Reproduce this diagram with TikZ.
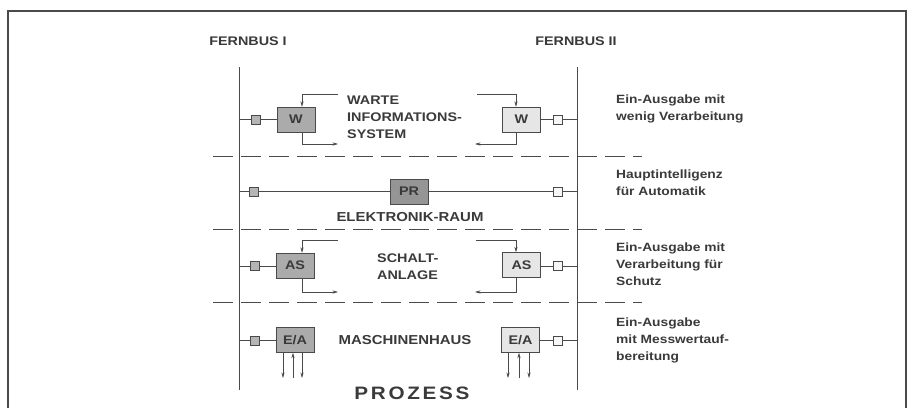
\documentclass[tikz,border=0pt]{standalone}
\usepackage{fontspec}
\setmainfont{Liberation Sans}[FakeStretch=1.15]
\usetikzlibrary{arrows.meta}
\definecolor{ink}{HTML}{3A3A3A}
\definecolor{linecol}{HTML}{4A4A4A}
\definecolor{darkfill}{HTML}{ABABAB}
\definecolor{prfill}{HTML}{959595}
\definecolor{lightfill}{HTML}{E6E6E6}
\definecolor{sqdark}{HTML}{B5B5B5}
\definecolor{sqlight}{HTML}{F6F6F6}
\tikzset{
  txt/.style={inner sep=0pt, text=ink, font=\fontsize{12}{17}\selectfont\bfseries, align=left},
  midtxt/.style={inner sep=0pt, text=ink, font=\fontsize{12.5}{17}\selectfont\bfseries, align=left},
  bigtxt/.style={inner sep=0pt, text=ink, font=\fontsize{13}{17}\selectfont\bfseries},
  unitL/.style={draw=linecol, fill=darkfill, minimum width=38pt, minimum height=25pt, inner sep=0pt, text=ink, font=\fontsize{12.5}{15}\selectfont\bfseries},
  unitR/.style={unitL, fill=lightfill},
  unitP/.style={unitL, fill=prfill},
  sqL/.style={draw=linecol, fill=sqdark, minimum size=9pt, inner sep=0pt},
  sqR/.style={sqL, fill=sqlight},
  wire/.style={draw=linecol, line width=0.6pt},
  sig/.style={draw=linecol, line width=0.6pt, -{Stealth[length=5.5pt,width=3.2pt]}},
  sep/.style={draw=linecol, line width=1pt, dash pattern=on 20pt off 8pt},
}
\begin{document}
\begin{tikzpicture}[x=1pt,y=-1pt]
\useasboundingbox (0,0) rectangle (911,408);
% frame
\draw[linecol, line width=1.8pt] (8,408) -- (8,11) -- (906,11) -- (906,408);
% buses
\coordinate (b1t) at (239,67); \coordinate (b1b) at (239,390);
\coordinate (b2t) at (577,67); \coordinate (b2b) at (577,390);
\draw[wire, line width=1pt] (b1t) -- (b1b);
\draw[wire, line width=1pt] (b2t) -- (b2b);
\node[midtxt] (fb1) at (248,41) {FERNBUS I};
\node[midtxt] (fb2) at (576,41) {FERNBUS II};
% separators
\coordinate (s1a) at (213,156); \coordinate (s1b) at (642,156);
\coordinate (s2a) at (213,229); \coordinate (s2b) at (642,229);
\coordinate (s3a) at (213,302); \coordinate (s3b) at (642,302);
\draw[sep] (s1a) -- (s1b);
\draw[sep] (s2a) -- (s2b);
\draw[sep] (s3a) -- (s3b);
% ---------- row 1 : W
\node[unitL] (W1) at (296,119.5) {W};
\node[sqL] (q1L) at (256,119.5) {};
\node[unitR] (W2) at (521.5,119.5) {W};
\node[sqR] (q1R) at (558,119.5) {};
\draw[wire] (b1t |- q1L) -- (q1L) -- (W1);
\draw[wire] (W2) -- (q1R) -- (b2t |- q1R);
\coordinate (i1L) at (338,94); \coordinate (o1L) at (338,144);
\coordinate (i1R) at (477,94); \coordinate (o1R) at (475,144);
\draw[sig] (i1L) -| ([xshift=6pt]W1.north);
\draw[sig] ([xshift=6pt]W1.south) |- (o1L);
\draw[sig] (i1R) -| ([xshift=-5.5pt]W2.north);
\draw[sig] ([xshift=-5.5pt]W2.south) |- (o1R);
\node[midtxt, anchor=west] (t1) at (347,117) {WARTE\\INFORMATIONS-\\SYSTEM};
\node[txt, anchor=west] (d1) at (616,108.5) {Ein-Ausgabe mit\\wenig Verarbeitung};
% ---------- row 2 : PR
\node[unitP] (PR) at (409,191.5) {PR};
\node[sqL] (q2L) at (254,191.5) {};
\node[sqR] (q2R) at (558,191.5) {};
\draw[wire] (b1t |- q2L) -- (q2L) -- (PR) -- (q2R) -- (b2t |- q2R);
\node[bigtxt] (t2) at (410,217) {ELEKTRONIK-RAUM};
\node[txt, anchor=west] (d2) at (616,183) {Hauptintelligenz\\für Automatik};
% ---------- row 3 : AS
\node[unitL] (AS1) at (295,265.5) {AS};
\node[sqL] (q3L) at (255,266) {};
\node[unitR] (AS2) at (521.5,265) {AS};
\node[sqR] (q3R) at (558,266) {};
\draw[wire] (b1t |- q3L) -- (q3L) -- (q3L -| AS1.west);
\draw[wire] (AS2.east |- q3R) -- (q3R) -- (b2t |- q3R);
\coordinate (i3L) at (338,240); \coordinate (o3L) at (338,292);
\coordinate (i3R) at (476,240); \coordinate (o3R) at (475,292);
\draw[sig] (i3L) -| ([xshift=7pt]AS1.north);
\draw[sig] ([xshift=7pt]AS1.south) |- (o3L);
\draw[sig] (i3R) -| ([xshift=-5.5pt]AS2.north);
\draw[sig] ([xshift=-5.5pt]AS2.south) |- (o3R);
\node[midtxt, anchor=west] (t3) at (377,266.5) {SCHALT-\\ANLAGE};
\node[txt, anchor=west] (d3) at (616,264) {Ein-Ausgabe mit\\Verarbeitung für\\Schutz};
% ---------- row 4 : E/A
\node[unitL] (EA1) at (295,340) {E/A};
\node[sqL] (q4L) at (255,340.5) {};
\node[unitR] (EA2) at (520.5,340) {E/A};
\node[sqR] (q4R) at (558,340.5) {};
\draw[wire] (b1t |- q4L) -- (q4L) -- (q4L -| EA1.west);
\draw[wire] (EA2.east |- q4R) -- (q4R) -- (b2t |- q4R);
\coordinate (e1) at (283,378); \coordinate (e2) at (293,378); \coordinate (e3) at (302,378);
\draw[sig] (EA1.south -| e1) -- (e1);
\draw[sig] (e2) -- (EA1.south -| e2);
\draw[sig] (EA1.south -| e3) -- (e3);
\coordinate (f1) at (508,378); \coordinate (f2) at (519,378); \coordinate (f3) at (529,378);
\draw[sig] (EA2.south -| f1) -- (f1);
\draw[sig] (f2) -- (EA2.south -| f2);
\draw[sig] (EA2.south -| f3) -- (f3);
\node[bigtxt] (t4) at (405,340) {MASCHINENHAUS};
\node[txt, anchor=west] (d4) at (616,340) {Ein-Ausgabe\\mit Messwertauf-\\bereitung};
% ---------- process
\node[inner sep=0pt, text=ink, font=\fontsize{18}{20}\selectfont\bfseries\addfontfeature{LetterSpace=15}] (proc) at (412,393) {PROZESS};
\end{tikzpicture}
\end{document}
